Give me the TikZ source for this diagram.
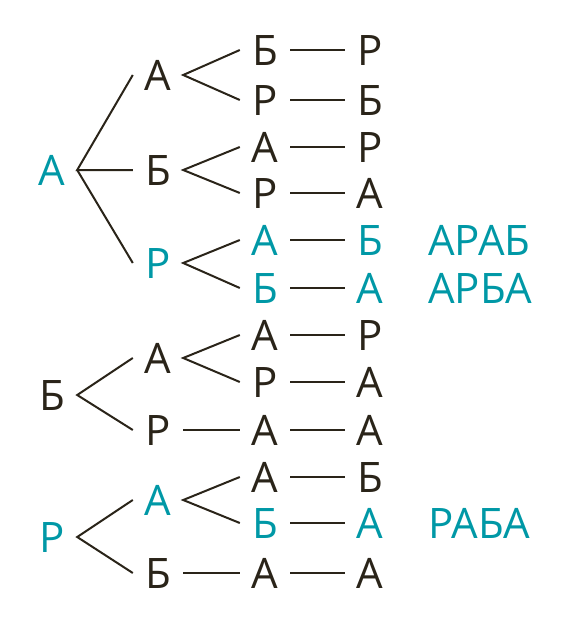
\documentclass[tikz,border=0pt]{standalone}
\usepackage{fontspec}
\setmainfont{Open Sans}
\usepackage{xcolor}
\usetikzlibrary{positioning}

\definecolor{ink}{HTML}{2A2419}
\definecolor{teal}{HTML}{0098A6}

\begin{document}
\begin{tikzpicture}[
  x=1pt, y=-1pt,
  every node/.style={font=\fontsize{42}{48}\selectfont},
  let/.style ={text=ink, minimum width=50pt, inner sep=0pt,
               text height=30pt, text depth=0pt, align=center},
  hit/.style ={let, text=teal},
  word/.style={text=teal, anchor=west, inner sep=0pt,
               text height=30pt, text depth=0pt},
  edge/.style={draw=ink, line width=2pt}
]
\useasboundingbox (0,0) rectangle (564,627);

%% --- first letter A ------------------------------------------
\node[hit] (a)   at (52,170)  {А};
\node[let] (aa)  at (158,75)  {А};
\node[let] (ab)  at (158,170) {Б};
\node[hit] (ar)  at (158,263) {Р};

\node[let] (aab) at (265,50)  {Б};
\node[let] (aar) at (265,100) {Р};
\node[let] (aba) at (265,147) {А};
\node[let] (abr) at (265,193) {Р};
\node[hit] (ara) at (265,240) {А};
\node[hit] (arb) at (265,288) {Б};

\node[let] (aabr) at (370,50)  {Р};
\node[let] (aarb) at (370,100) {Б};
\node[let] (abar) at (370,147) {Р};
\node[let] (abra) at (370,193) {А};
\node[hit] (arab) at (370,240) {Б};
\node[hit] (arba) at (370,288) {А};

\node[word] (w1) at (428,240) {АРАБ};
\node[word] (w2) at (428,288) {АРБА};

%% --- first letter Б ------------------------------------------
\node[let] (b)   at (52,395)  {Б};
\node[let] (ba)  at (158,358) {А};
\node[let] (br)  at (158,430) {Р};

\node[let] (baa) at (265,335) {А};
\node[let] (bar) at (265,382) {Р};
\node[let] (bra) at (265,430) {А};

\node[let] (baar) at (370,335) {Р};
\node[let] (bara) at (370,382) {А};
\node[let] (braa) at (370,430) {А};

%% --- first letter Р ------------------------------------------
\node[hit] (r)   at (52,537)  {Р};
\node[hit] (ra)  at (158,500) {А};
\node[let] (rb)  at (158,573) {Б};

\node[let] (raa) at (265,477) {А};
\node[hit] (rab) at (265,523) {Б};
\node[let] (rba) at (265,573) {А};

\node[let] (raab) at (370,477) {Б};
\node[hit] (raba) at (370,523) {А};
\node[let] (rbaa) at (370,573) {А};

\node[word] (w3) at (428,523) {РАБА};

%% --- branches ------------------------------------------------
% A
\draw[edge] (aa.west) -- (a.east) -- (ab.west);
\draw[edge] (a.east) -- (ar.west);
\draw[edge] (aab.west) -- (aa.east) -- (aar.west);
\draw[edge] (aba.west) -- (ab.east) -- (abr.west);
\draw[edge] (ara.west) -- (ar.east) -- (arb.west);
\draw[edge] (aab) -- (aabr);
\draw[edge] (aar) -- (aarb);
\draw[edge] (aba) -- (abar);
\draw[edge] (abr) -- (abra);
\draw[edge] (ara) -- (arab);
\draw[edge] (arb) -- (arba);
% Б
\draw[edge] (ba.west) -- (b.east) -- (br.west);
\draw[edge] (baa.west) -- (ba.east) -- (bar.west);
\draw[edge] (br) -- (bra);
\draw[edge] (baa) -- (baar);
\draw[edge] (bar) -- (bara);
\draw[edge] (bra) -- (braa);
% Р
\draw[edge] (ra.west) -- (r.east) -- (rb.west);
\draw[edge] (raa.west) -- (ra.east) -- (rab.west);
\draw[edge] (rb) -- (rba);
\draw[edge] (raa) -- (raab);
\draw[edge] (rab) -- (raba);
\draw[edge] (rba) -- (rbaa);

\end{tikzpicture}
\end{document}
